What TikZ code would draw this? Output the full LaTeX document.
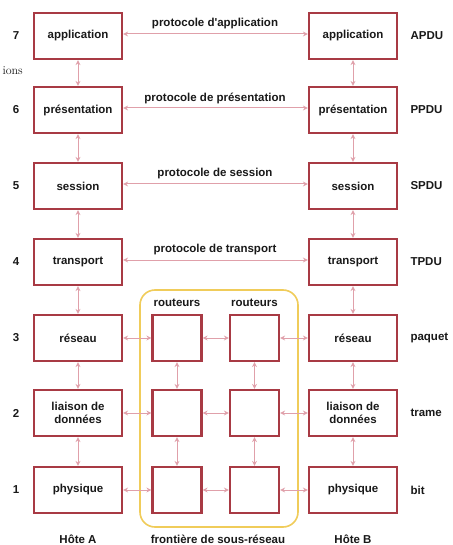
\documentclass[tikz,border=0pt]{standalone}
\usepackage{fontspec}
\setmainfont{Liberation Sans}
\newfontfamily\serifface{Latin Modern Roman}
\usetikzlibrary{arrows.meta}
\definecolor{boxred}{HTML}{A83A44}
\definecolor{linkpink}{HTML}{E0A0AA}
\definecolor{frameyellow}{HTML}{F0CC5A}
\begin{document}
\begin{tikzpicture}[x=1pt,y=-1pt,
  every node/.style={font=\fontsize{11.5}{13}\selectfont\bfseries, text=black!90},
  layerbox/.style={draw=boxred, line width=2.2pt, minimum width=88pt, minimum height=46pt, inner sep=1pt, align=center, fill=white},
  routerbox/.style={draw=boxred, line width=2.2pt, minimum width=49pt, minimum height=46pt, inner sep=0pt, fill=white},
  link/.style={draw=linkpink, line width=1pt, {Stealth[length=5pt,width=5pt,open]}-{Stealth[length=5pt,width=5pt,open]}},
  tag/.style={anchor=west},
  num/.style={anchor=center}]
\useasboundingbox (0,0) rectangle (452,545);
\fill[white] (0,0) rectangle (452,545);

% sub-network frontier
\draw[frameyellow, line width=1.6pt, rounded corners=15pt] (140,290) rectangle (298,527);

% host layers
\foreach \n/\y/\t/\u in {7/36/application/APDU, 6/110/présentation/PPDU, 5/186/session/SPDU, 4/262/transport/TPDU, 3/338/réseau/paquet, 2/413/{liaison de\\données}/trame, 1/490/physique/bit}{
  \node[layerbox] (A\n) at (78,\y) {\t};
  \node[layerbox] (B\n) at (353,\y) {\t};
  \node[num] (N\n) at (16,\y) {\n};
  \node[tag] (U\n) at (407,\y) {\u};
}

% routers
\foreach \n/\y in {3/338, 2/413, 1/490}{
  \node[routerbox] (R\n) at (177,\y) {};
  \node[routerbox] (S\n) at (254.5,\y) {};
}
\node (rl) at (177,303) {routeurs};
\node (rr) at (254.5,303) {routeurs};

% peer protocols
\foreach \n/\y/\t in {7/36/protocole d\textquotesingle application, 6/110/protocole de présentation, 5/186/protocole de session, 4/262/protocole de transport}{
  \coordinate (pl\n) at ([yshift=2pt]A\n.east);
  \coordinate (pr\n) at ([yshift=2pt]B\n.west);
  \draw[link] (pl\n) -- (pr\n);
  \node (P\n) at (215,\y-12) {\t};
}

% vertical links between layers
\foreach \a/\b in {7/6,6/5,5/4,4/3,3/2,2/1}{
  \draw[link] (A\a.south) -- (A\b.north);
  \draw[link] (B\a.south) -- (B\b.north);
}
\foreach \a/\b in {3/2,2/1}{
  \draw[link] (R\a.south) -- (R\b.north);
  \draw[link] (S\a.south) -- (S\b.north);
}

% horizontal links through the sub-network
\foreach \n in {3,2,1}{
  \draw[link] (A\n.east) -- (R\n.west);
  \draw[link] (R\n.east) -- (S\n.west);
  \draw[link] (S\n.east) -- (B\n.west);
}

% captions
\node (ha) at (78,539) {Hôte A};
\node (fr) at (218,539) {frontière de sous-réseau};
\node (hb) at (353,539) {Hôte B};
\node[anchor=west, font=\serifface\fontsize{12}{14}\selectfont] (ions) at (-1,71) {ions};
\end{tikzpicture}
\end{document}
